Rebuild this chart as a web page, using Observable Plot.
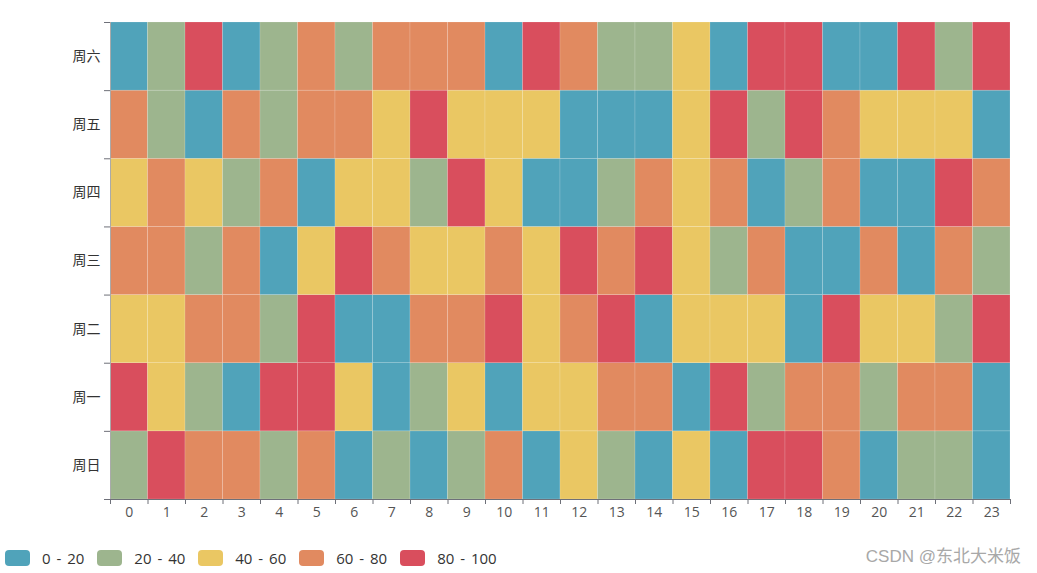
<!DOCTYPE html>
<html>
<head>
<meta charset="utf-8">
<script src="https://cdn.jsdelivr.net/npm/d3@7"></script>
<script src="https://cdn.jsdelivr.net/npm/@observablehq/plot@0.6"></script>
<style>
  html, body { margin: 0; padding: 0; background: #fff; }
  #wrap { position: relative; width: 1037px; height: 573px; font-family: "Open Sans", "Noto Sans CJK SC", sans-serif; }
  #legend { position: absolute; left: 5px; top: 548px; display: flex; align-items: center; font-size: 15px; word-spacing: 2px; color: #333; }
  .item { display: flex; align-items: center; margin-right: 13px; }
  .sw { width: 25px; height: 16px; border-radius: 4px; margin-right: 12px; }
  #mark { position: absolute; right: 16px; top: 542px; font-size: 17px; color: #a8a8a8; font-family: "Liberation Sans", "Noto Sans CJK SC", sans-serif; }
</style>
</head>
<body>
<div id="wrap">
  <div id="chart"></div>
  <div id="legend"></div>
  <div id="mark">CSDN @东北大米饭</div>
</div>
<script>
const hours = [0,1,2,3,4,5,6,7,8,9,10,11,12,13,14,15,16,17,18,19,20,21,22,23];
const days = ["周日","周一","周二","周三","周四","周五","周六"];

const sun = [30,90,70,70,30,70,10,30,10,30,70,10,50,30,10,50,10,90,90,70,10,30,30,10];
const mon = [90,50,30,10,90,90,50,10,30,50,10,50,50,70,70,10,90,30,70,70,30,70,70,10];
const tue = [50,50,70,70,30,90,10,10,70,70,90,50,70,90,10,50,50,50,10,90,50,50,30,90];
const wed = [70,70,30,70,10,50,90,70,50,50,70,50,90,70,90,50,30,70,10,10,70,10,70,30];
const thu = [50,70,50,30,70,10,50,50,30,90,50,10,10,30,70,50,70,10,30,70,10,10,90,70];
const fri = [70,30,10,70,30,70,70,50,90,50,50,50,10,10,10,50,90,30,90,70,50,50,50,10];
const sat = [10,30,90,10,30,70,30,70,70,70,10,90,70,30,30,50,10,90,90,10,10,90,30,90];

const pieceLabels = ["0 - 20","20 - 40","40 - 60","60 - 80","80 - 100"];
const thresholds = [20,40,60,80];
const colors = ["#50a3ba","#9db58e","#eac763","#e18a60","#d94e5d"];

const rows = [sun, mon, tue, wed, thu, fri, sat];
const data = [];
rows.forEach((vals, di) => vals.forEach((v, hi) => data.push({day: di, hour: hours[hi], value: v})));

const axisColor = "#6E7079";
const labelColor = "#555";

const chart = Plot.plot({
  width: 1037,
  height: 535,
  marginLeft: 110,
  marginRight: 27,
  marginTop: 22,
  marginBottom: 36,
  style: { fontSize: "14px", fontFamily: "'Open Sans', 'Noto Sans CJK SC', sans-serif", background: "#fff" },
  x: { domain: [0, 24], axis: null },
  y: { domain: [0, 7], axis: null },
  color: { type: "threshold", domain: thresholds, range: colors },
  marks: [
    Plot.rect(data, {
      x1: "hour", x2: d => d.hour + 1,
      y1: "day", y2: d => d.day + 1,
      fill: "value",
      stroke: "white", strokeWidth: 0.6, strokeOpacity: 0.25
    }),
    Plot.ruleY([0], { stroke: axisColor }),
    Plot.ruleX([0], { stroke: "#aaa", strokeWidth: 1 }),
    Plot.axisX({ ticks: [...hours, 24], tickSize: 5, tickFormat: () => "", stroke: axisColor, label: null }),
    Plot.axisX({ ticks: hours.map(h => h + 0.5), tickSize: 0, tickPadding: 8, tickFormat: d => String(hours[Math.floor(d)]), fill: labelColor, label: null }),
    Plot.axisY({ ticks: d3.range(days.length + 1), tickSize: 6, tickFormat: () => "", stroke: axisColor, label: null }),
    Plot.axisY({ ticks: days.map((_, i) => i + 0.5), tickSize: 0, tickPadding: 10, tickFormat: d => days[Math.floor(d)], fill: "#333", label: null })
  ]
});
document.getElementById("chart").appendChild(chart);

const legend = document.getElementById("legend");
pieceLabels.forEach((lab, i) => {
  const it = document.createElement("div");
  it.className = "item";
  const sw = document.createElement("div");
  sw.className = "sw";
  sw.style.background = colors[i];
  const tx = document.createElement("span");
  tx.textContent = lab;
  it.appendChild(sw);
  it.appendChild(tx);
  legend.appendChild(it);
});
</script>
</body>
</html>
